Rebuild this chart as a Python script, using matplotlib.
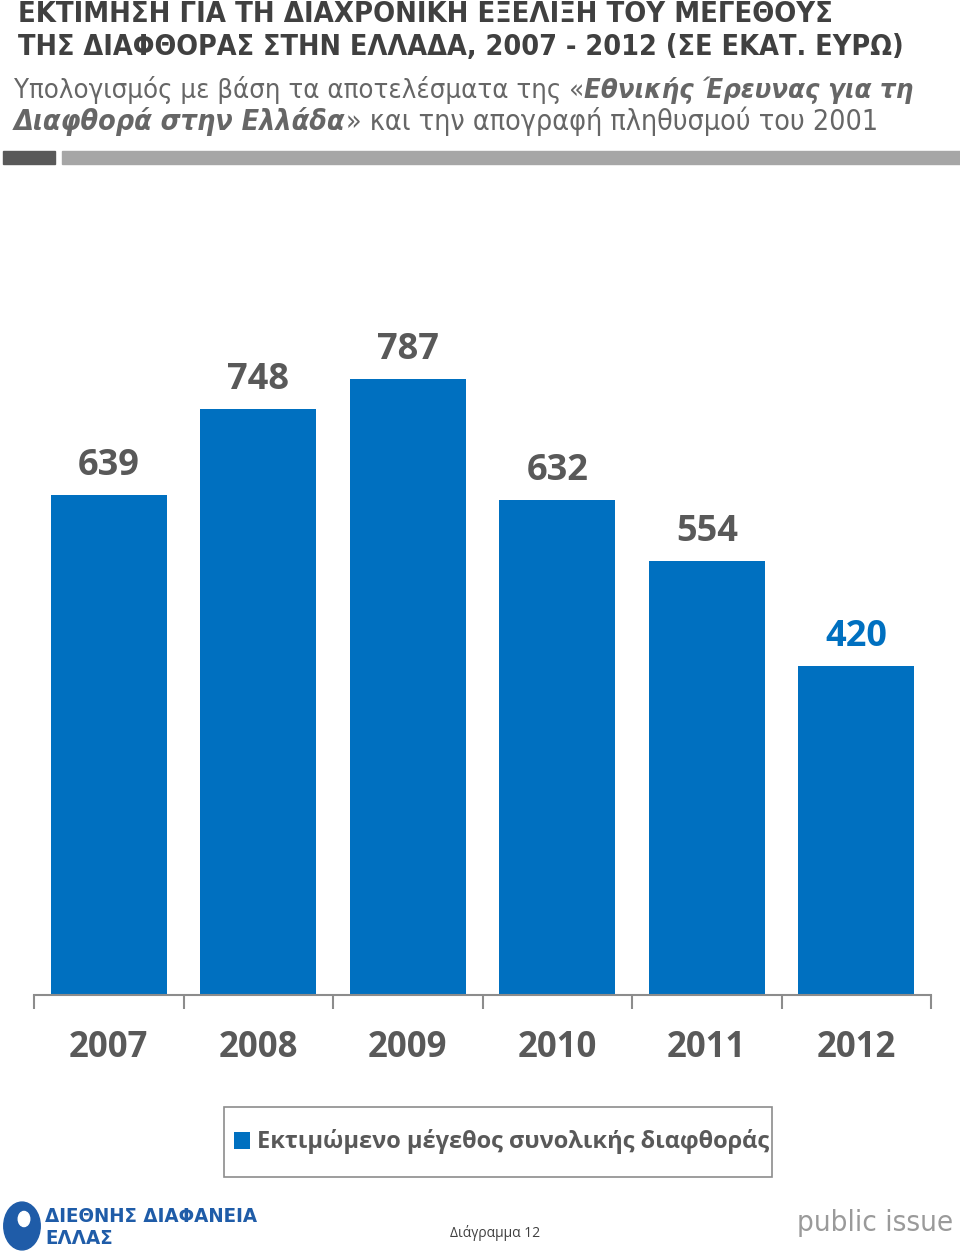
import matplotlib
matplotlib.use("Agg")
import matplotlib.pyplot as plt
from matplotlib.patches import Rectangle, Circle

years = ["2007", "2008", "2009", "2010", "2011", "2012"]
values = [639, 748, 787, 632, 554, 420]
series_name = "Εκτιμώμενο μέγεθος συνολικής διαφθοράς"
title_lines = ["ΕΚΤΙΜΗΣΗ ΓΙΑ ΤΗ ΔΙΑΧΡΟΝΙΚΗ ΕΞΕΛΙΞΗ ΤΟΥ ΜΕΓΕΘΟΥΣ",
               "ΤΗΣ ΔΙΑΦΘΟΡΑΣ ΣΤΗΝ ΕΛΛΑΔΑ, 2007 - 2012 (ΣΕ ΕΚΑΤ. ΕΥΡΩ)"]
subtitle_runs = [
    [("Υπολογισμός με βάση τα αποτελέσματα της «", False), ("Εθνικής Έρευνας για τη", True)],
    [("Διαφθορά στην Ελλάδα", True), ("» και την απογραφή πληθυσμού του 2001", False)],
]

MAIN = "Open Sans"
NARROW = "DejaVu Sans"

BLUE = "#0070c0"
DARK = "#595959"

W, H = 960, 1259
fig = plt.figure(figsize=(9.6, 12.59), dpi=100)
renderer = fig.canvas.get_renderer()

def fx(px):
    return px / W

def fy(py):
    return 1 - py / H

def fit_text(t, target_w):
    for _ in range(3):
        w = t.get_window_extent(renderer=renderer).width
        t.set_fontsize(t.get_fontsize() * target_w / w)
    return t

ax = fig.add_axes([fx(34), fy(995), fx(931) - fx(34), fy(290.5) - fy(995)])
x = list(range(len(years)))
bars = ax.bar(x, values, width=0.775, color=BLUE, label=series_name, zorder=2)
ax.set_xlim(-0.5, len(years) - 0.5)
ax.set_ylim(0, 900)
for s in ["top", "left", "right"]:
    ax.spines[s].set_visible(False)
ax.spines["bottom"].set_color("#8c8c8c")
ax.spines["bottom"].set_linewidth(1.5)
ax.set_yticks([])
ax.set_xticks(x)
ax.set_xticklabels(years, fontsize=25, fontweight="bold", color=DARK, family=MAIN)
ax.tick_params(axis="x", which="major", length=0, pad=25)
ax.set_xticks([i - 0.5 for i in range(len(years) + 1)], minor=True)
ax.tick_params(axis="x", which="minor", length=10, width=1.5, color="#8c8c8c")

for i, (b, v) in enumerate(zip(bars, values)):
    col = BLUE if i == len(values) - 1 else DARK
    ax.annotate(str(v), (b.get_x() + b.get_width() / 2, v), xytext=(0, 8),
                textcoords="offset points", ha="center", va="bottom",
                fontsize=26, fontweight="bold", color=col, family=MAIN)

# Title
t1 = fig.text(fx(18), fy(14), title_lines[0], fontsize=22, fontweight="bold", color="#404040",
              family=NARROW, fontstretch="condensed", va="center", ha="left")
fit_text(t1, 815)
t2 = fig.text(fx(18), fy(47), title_lines[1], fontsize=22, fontweight="bold", color="#404040",
              family=NARROW, fontstretch="condensed", va="center", ha="left")
fit_text(t2, 887)

# Subtitle with mixed styles, fitted to the reference line widths
sub_targets = [902, 862]
base = 21
for line_i, runs in enumerate(subtitle_runs):
    ypos = 90 + line_i * 31
    texts = []
    for txt, emph in runs:
        t = fig.text(0, fy(ypos), txt, fontsize=base, color="#666666",
                     family=NARROW, fontstretch="condensed", va="center", ha="left",
                     fontweight="bold" if emph else "normal",
                     fontstyle="italic" if emph else "normal")
        texts.append(t)
    for _ in range(3):
        total = sum(t.get_window_extent(renderer=renderer).width for t in texts)
        for t in texts:
            t.set_fontsize(t.get_fontsize() * sub_targets[line_i] / total)
    xpos = 14
    for t in texts:
        t.set_x(fx(xpos))
        xpos += t.get_window_extent(renderer=renderer).width

# Separator bars
fig.patches.append(Rectangle((fx(3), fy(164)), fx(55) - fx(3), fy(151) - fy(164),
                             transform=fig.transFigure, color="#595959"))
fig.patches.append(Rectangle((fx(62), fy(164)), fx(960) - fx(62), fy(151) - fy(164),
                             transform=fig.transFigure, color="#a6a6a6"))

# Legend (library legend for entries, frame drawn to reference size)
leg = fig.legend(loc="center left", bbox_to_anchor=(fx(222), fy(1142)), frameon=False,
                 handlelength=0.7, handleheight=0.7, handletextpad=0.3, borderpad=0.0,
                 prop={"family": MAIN, "weight": "bold", "size": 17})
for t in leg.get_texts():
    t.set_color(DARK)
fig.patches.append(Rectangle((fx(224), fy(1177)), fx(772) - fx(224), fy(1107) - fy(1177),
                             transform=fig.transFigure, facecolor="none",
                             edgecolor="#8c8c8c", linewidth=1.2))

# Footer
fig.patches.append(Circle((fx(22), fy(1226)), 0.019, transform=fig.transFigure, color="#1f5ca8"))
fig.patches.append(Circle((fx(24), fy(1219)), 0.006, transform=fig.transFigure, color="white"))
f1 = fig.text(fx(45), fy(1217), "ΔΙΕΘΝΗΣ ΔΙΑΦΑΝΕΙΑ", fontsize=15, fontweight="bold",
              color="#1f5ca8", family=NARROW, fontstretch="condensed", va="center", ha="left")
fit_text(f1, 213)
f2 = fig.text(fx(45), fy(1238), "ΕΛΛΑΣ", fontsize=f1.get_fontsize(), fontweight="bold",
              color="#1f5ca8", family=NARROW, fontstretch="condensed", va="center", ha="left")
fig.text(fx(495), fy(1233), "Διάγραμμα 12", fontsize=10, color="#404040",
         family=MAIN, va="center", ha="center")
p = fig.text(fx(875), fy(1223), "public issue", fontsize=27, color="#9a9a9a",
             family=NARROW, fontstretch="condensed", va="center", ha="center")
fit_text(p, 156)

fig.savefig("out.png", dpi=100)
